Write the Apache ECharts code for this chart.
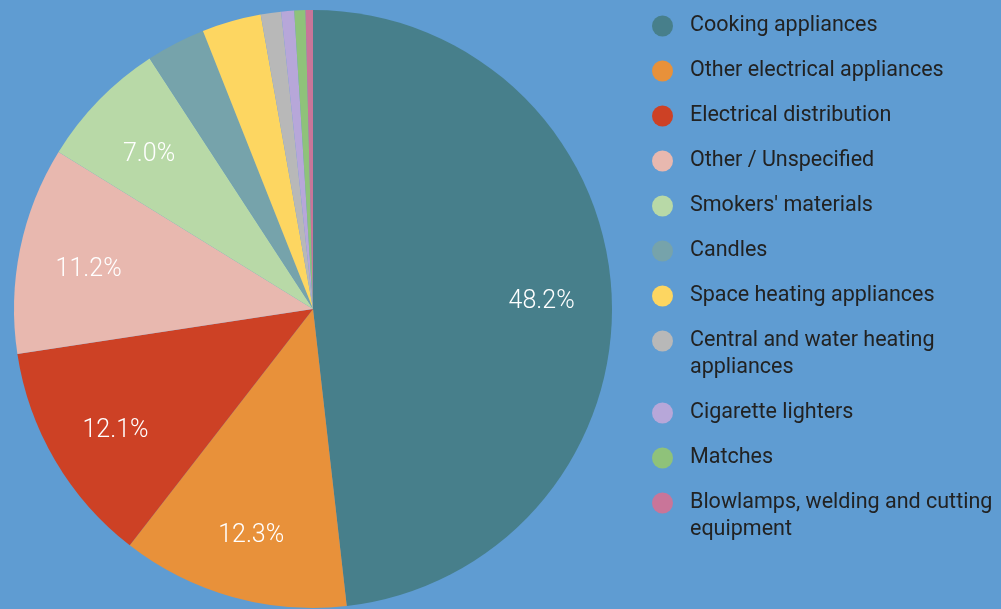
<!DOCTYPE html>
<html>
<head>
<meta charset="utf-8">
<script src="https://cdn.jsdelivr.net/npm/echarts@6/dist/echarts.min.js"></script>
<style>
html,body{margin:0;padding:0;background:#5F9CD2;}
#chart{width:1001px;height:609px;}
</style>
</head>
<body>
<div id="chart"></div>
<script>
const categories = [
  "Cooking appliances",
  "Other electrical appliances",
  "Electrical distribution",
  "Other / Unspecified",
  "Smokers' materials",
  "Candles",
  "Space heating appliances",
  "Central and water heating appliances",
  "Cigarette lighters",
  "Matches",
  "Blowlamps, welding and cutting equipment"
];
const legendLines = {
  "Central and water heating appliances": ["Central and water heating", "appliances"],
  "Blowlamps, welding and cutting equipment": ["Blowlamps, welding and cutting", "equipment"]
};
const values = [48.2, 12.3, 12.1, 11.2, 7.0, 3.2, 3.2, 1.1, 0.7, 0.6, 0.4];
const colors = ["#477F8B", "#E8913A", "#CD4125", "#E8B8AF", "#B8D9A7", "#76A3AB", "#FDD661", "#B8B8B8", "#B7A7D9", "#8FC27A", "#C97599"];

const chart = echarts.init(document.getElementById('chart'));
const data = categories.map((c, i) => ({name: c, value: values[i], itemStyle: {color: colors[i]}}));
const total = values.reduce((a, b) => a + b, 0);

const FONT = 'Roboto';
const lineH = 27;
const legends = [];
let y = 26; // symbol center of first item
categories.forEach((c) => {
  const lines = legendLines[c];
  const wrapped = !!lines;
  legends.push({
    orient: 'vertical',
    left: 652,
    top: wrapped ? y - 40.5 : y - 13.5,
    padding: 0,
    itemWidth: 21,
    itemHeight: 21,
    icon: 'circle',
    data: [c],
    formatter: wrapped ? (() => ' \n' + lines.join('\n')) : '{name}',
    textStyle: {
      fontFamily: FONT,
      fontSize: 21.5,
      color: '#222',
      lineHeight: lineH,
      padding: [0, 0, 0, 12]
    },
    itemGap: 0
  });
  y += wrapped ? 72 : 45;
});

chart.setOption({
  backgroundColor: '#5F9CD2',
  animation: false,
  legend: legends,
  series: [
    {
      type: 'pie',
      center: [313, 309],
      radius: [0, 299],
      startAngle: 90,
      clockwise: true,
      data: data,
      label: {show: false},
      labelLine: {show: false},
      emphasis: {scale: false}
    },
    {
      type: 'pie',
      center: [313, 309],
      radius: [155, 297],
      startAngle: 90,
      clockwise: true,
      silent: true,
      data: data.map(d => ({name: d.name, value: d.value, itemStyle: {color: 'rgba(0,0,0,0)'}})),
      label: {
        show: true,
        position: 'inside',
        fontFamily: FONT,
        fontWeight: 300,
        fontSize: 25,
        color: '#fff',
        rich: {
          s: {lineHeight: 12, fontSize: 1},
          v: {fontFamily: FONT, fontWeight: 300, fontSize: 25, color: '#fff', lineHeight: 30}
        },
        formatter: p => p.percent >= 5 ? '{s| }\n{v|' + (p.value / total * 100).toFixed(1) + '%}' : ''
      },
      labelLine: {show: false},
      emphasis: {disabled: true}
    }
  ]
});
</script>
</body>
</html>
